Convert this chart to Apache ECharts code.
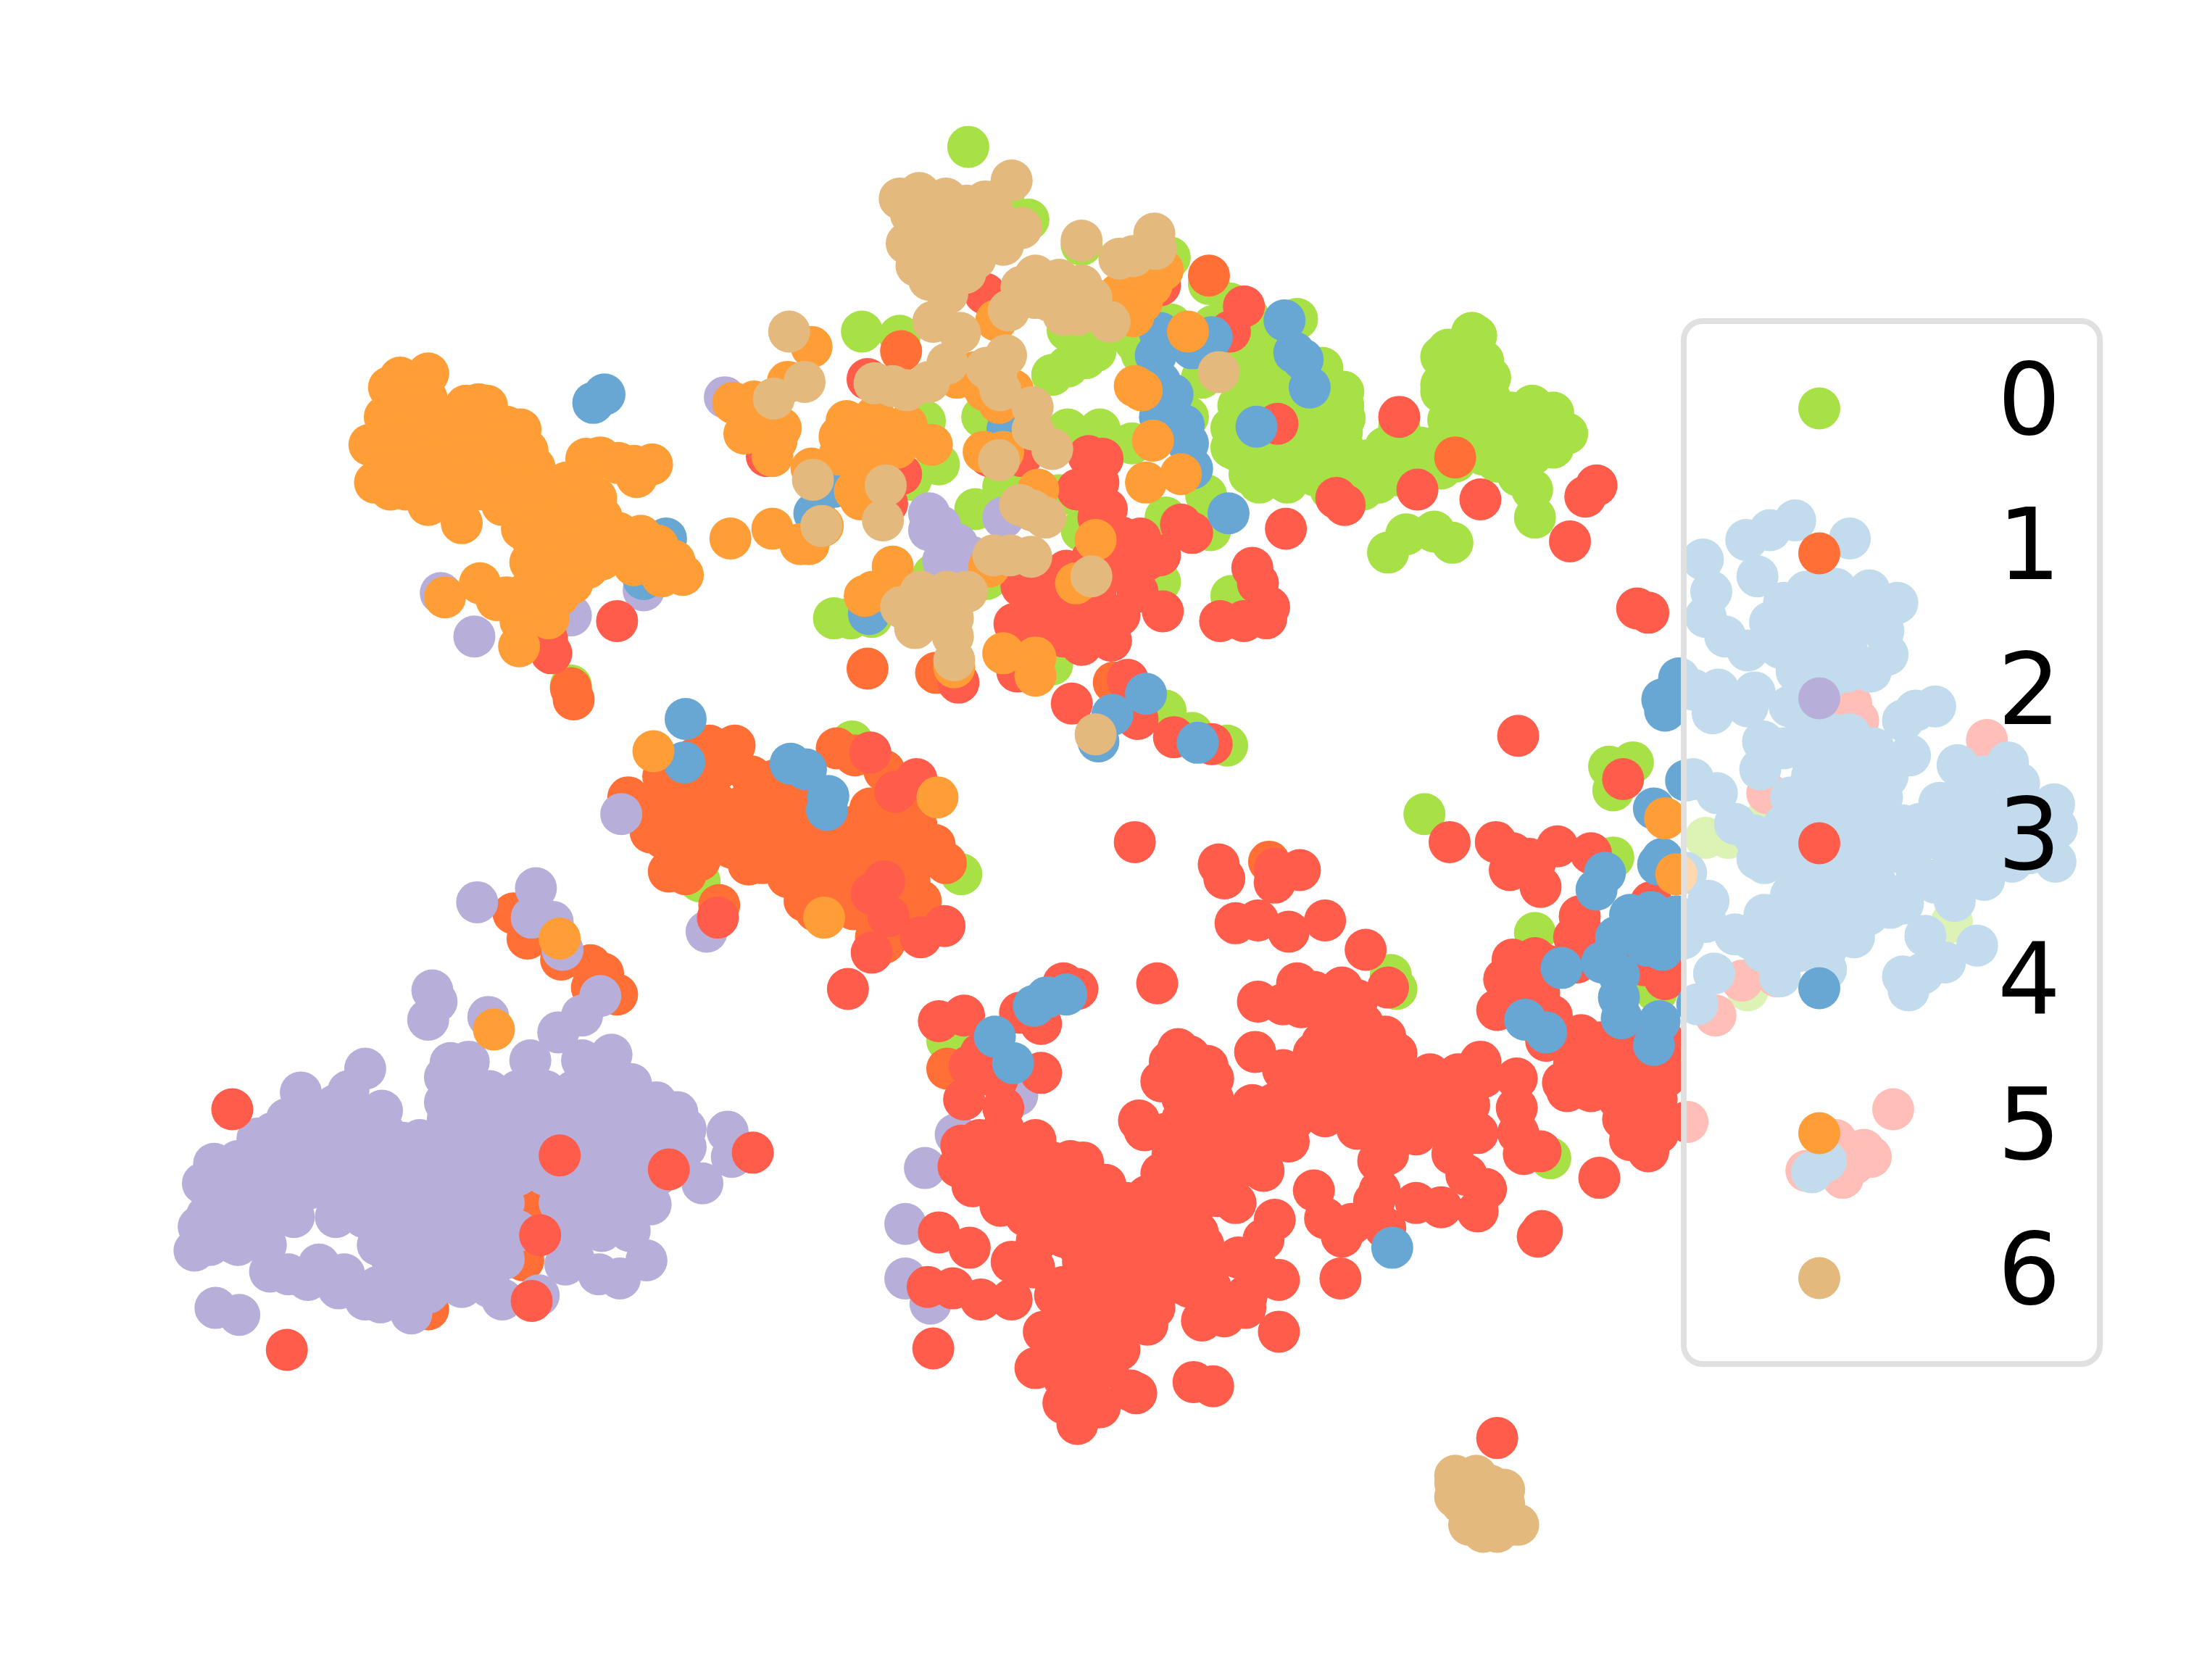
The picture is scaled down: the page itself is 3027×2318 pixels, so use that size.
<!DOCTYPE html>
<html><head><meta charset="utf-8">
<style>html,body{margin:0;padding:0;background:#fff}#c{width:3027px;height:2318px}</style>
<script src="https://cdn.jsdelivr.net/npm/echarts@6/dist/echarts.min.js"></script>
</head><body><div id="c"></div>
<script>
const labels=['0','1','2','3','4','5','6'];
const colors=['#a7e146','#ff6f36','#b7afd9','#ff5c4b','#68a7d3','#ff9e36','#e4b97e'];
const class0=[[692,105],[717,141],[735,157],[773,175],[836,184],[752,268],[763,262],[776,256],[783,251],[773,243],[763,236],[864,203],[879,217],[892,226],[927,228],[867,233],[816,253],[895,250],[895,269],[912,276],[895,289],[912,293],[928,296],[880,306],[898,306],[925,312],[945,263],[961,299],[959,309],[884,322],[905,332],[928,332],[951,332],[978,329],[893,339],[915,338],[951,350],[974,350],[1052,238],[1030,255],[1060,258],[1045,280],[1065,285],[1030,280],[1095,290],[1120,310],[1105,300],[1090,320],[1050,300],[1025,320],[1060,325],[1085,340],[1110,320],[1000,320],[985,345],[960,290],[990,330],[1095,350],[1097,370],[1005,382],[992,395],[1038,388],[1025,380],[1018,582],[1150,548],[1167,545],[1153,565],[1097,667],[1153,613],[1249,708],[1219,599],[1235,599],[1261,587],[1395,659],[1108,828],[994,697],[998,707],[1161,798],[1184,709],[609,530],[500,630],[687,625],[408,490],[616,237],[643,240],[596,442],[608,442],[623,441],[880,426],[829,416],[752,475],[877,533],[833,508],[852,524],[697,364],[757,354],[717,348],[773,379],[702,298],[763,307],[786,307],[809,317],[661,301],[671,332],[651,343],[833,370],[865,379],[849,298],[859,270],[811,244],[837,232],[705,414],[667,411],[862,354],[677,744],
[1040,265],[1050,270],[1045,250],[1035,300],[1045,310],[1060,305],[1075,310],[1090,305],[1100,315],[1080,295],[1110,295],[1095,325],[1040,330],[1030,335],[1070,330],[1035,320],[1015,320],[1015,340],[1000,340],[1030,275],[1055,240],[1035,250],[1065,270],[1060,280],[905,255],[915,265],[930,270],[900,300],[915,310],[940,320],[960,320],[975,340],[960,340],[940,340],[920,345],[900,345],[880,320],[895,320],[910,322],[925,300],[945,290],[945,310],[905,240],[885,235],[880,250],[885,270],[885,290],[870,245],[875,230],[960,280],[990,320],[985,335],[1000,305]];
const class1=[[449,570],[474,555],[507,533],[525,533],[497,542],[513,550],[537,555],[553,558],[569,561],[462,584],[474,575],[494,566],[513,575],[533,575],[553,575],[573,581],[474,599],[494,591],[513,594],[533,594],[553,594],[573,594],[593,599],[612,599],[632,604],[652,604],[668,604],[676,617],[478,623],[490,616],[523,606],[545,617],[563,627],[583,617],[603,617],[632,621],[652,619],[575,644],[583,651],[603,647],[593,632],[612,632],[658,644],[632,674],[626,670],[598,535],[611,540],[632,551],[622,578],[648,575],[668,570],[610,591],[646,591],[514,647],[367,653],[377,671],[401,686],[422,690],[431,696],[423,706],[441,711],[297,857],[386,859],[306,936],[374,901],[620,478],[669,481],[796,488],[410,500],[408,492],[864,197],[644,251],[1040,327],[907,616],[677,764],
[485,560],[500,545],[520,545],[540,565],[560,570],[485,585],[505,585],[525,585],[545,585],[565,585],[585,585],[465,595],[485,605],[505,605],[525,600],[545,605],[565,605],[585,605],[605,605],[620,612],[640,612],[660,612],[500,615],[490,625],[535,618],[575,630],[585,640],[600,630],[620,640],[640,640],[650,630],[640,655],[610,650],[640,595],[630,590],[620,590],[575,570],[655,590]];
const class2=[[341,645],[383,635],[380,656],[395,659],[402,679],[309,708],[312,716],[306,729],[349,727],[399,738],[416,726],[429,712],[437,754],[261,764],[249,780],[215,781],[273,794],[184,814],[153,832],[145,846],[148,869],[142,877],[139,894],[166,888],[193,909],[206,911],[220,915],[228,904],[246,911],[242,921],[261,929],[272,931],[294,939],[306,924],[341,916],[359,929],[385,926],[404,904],[428,911],[443,914],[462,901],[154,935],[171,940],[465,861],[502,846],[523,827],[520,809],[490,807],[484,795],[469,788],[451,775],[416,758],[379,758],[335,759],[322,760],[318,770],[318,788],[300,815],[288,817],
[330,780],[350,780],[370,780],[390,780],[410,780],[430,780],[450,780],[320,800],[340,800],[360,800],[380,800],[400,800],[420,800],[440,800],[460,800],[480,800],[300,820],[320,820],[340,820],[360,820],[380,820],[420,820],[440,820],[460,820],[490,820],[290,840],[310,840],[330,840],[350,840],[370,840],[390,840],[410,840],[430,840],[450,840],[470,840],[300,860],[320,860],[340,860],[360,860],[400,860],[420,860],[440,860],[460,860],[290,880],[310,880],[330,880],[350,880],[370,880],[410,880],[430,880],[450,880],[280,900],[300,900],[320,900],[340,900],[360,900],[410,900],[270,920],[290,920],[310,920],[330,920],[350,920],
[195,810],[215,810],[235,810],[255,810],[275,810],[170,830],[190,830],[210,830],[230,830],[250,830],[270,830],[160,850],[180,850],[200,850],[220,850],[240,850],[260,850],[280,850],[170,870],[190,870],[210,870],[240,870],[260,870],[280,870],[150,890],[170,890],[190,890],[270,890],[290,890],[240,790],[225,795],[265,800],[205,800],[470,815],[475,830],
[444,582],[505,666],[315,424],[460,422],[408,440],[339,455],[518,284],[664,367],[672,376],[664,379],[684,389],[674,401],[694,398],[717,370],[647,875],[647,914],[661,835],[683,811],[665,932],[727,783]];
const class3=[[871,618],[875,628],[911,621],[929,622],[911,631],[883,660],[899,658],[921,666],[947,658],[976,679],[827,703],[671,730],[689,726],[744,732],[760,703],[770,707],[729,724],[693,762],[744,767],[689,786],[717,792],[713,771],[701,753],[899,716],[917,718],[927,703],[939,709],[959,706],[992,706],[970,715],[974,732],[897,752],[917,765],[939,753],[959,753],[990,741],[998,753],[978,768],[959,774],[935,780],[911,789],[947,798],[970,807],[1012,811],[992,825],[1022,768],[1042,768],[1058,759],[1084,771],[1084,792],[1085,810],[1038,783],[1056,810],[1038,825],[1048,840],[1062,850],[1056,866],[1030,863],[1012,860],[986,851],[982,859],[939,851],[947,871],[959,884],[990,878],[966,875],[1018,786],[1018,804],[994,789],[970,789],[1102,880],[1099,884],[1143,842],[1089,825],[1101,823],[1178,823],[1169,804],[1184,786],[1177,774],[1157,786],[1117,774],[1137,780],[1129,753],[1149,762],[1184,753],[1105,744],[1109,726],[1070,722],[1081,686],[1097,685],[1091,700],[1127,688],[1188,688],[1180,645],[1079,622],[1069,602],[1101,634],[1097,617],[1113,605],[1129,655],[1036,602],[1137,610],[1093,614],[1081,610],[811,602],
[842,750],[836,759],[830,773],[863,762],[867,771],[867,786],[859,798],[814,801],[818,808],[899,804],[921,816],[903,837],[830,839],[838,825],[847,813],[875,822],[867,842],[883,860],[859,857],[844,839],[859,828],[687,819],[685,834],[695,848],[717,807],[739,816],[752,831],[774,831],[790,847],[715,862],[733,869],[717,828],[741,842],[760,851],[780,863],[808,869],[820,869],[840,866],[856,881],[820,890],[796,881],[760,884],[741,887],[774,902],[804,902],[836,908],[867,902],[885,899],[911,872],[903,886],[899,908],[914,915],[891,926],[875,941],[859,944],[843,917],[820,926],[792,926],[914,952],[958,914],[671,881],[693,892],[723,902],[739,906],[663,920],[681,921],[701,929],[723,929],[754,926],[667,964],[760,952],[746,952],[780,944],[820,947],[780,961],[740,978],[792,976],[760,976],[812,996],[808,994],[760,1003],[786,1006],[770,1018],[853,988],[867,991],[1070,1028],
[700,815],[720,815],[740,815],[700,830],[735,830],[765,830],[705,845],[725,845],[745,845],[775,845],[745,860],[765,860],[790,860],[805,860],[750,875],[775,875],[790,875],[815,875],[835,875],[770,890],[790,890],[805,890],[840,890],[860,890],[785,905],[820,905],[850,905],[760,920],[775,920],[805,920],[850,920],[865,920],[760,935],[800,935],[825,935],[865,935],[890,935],[770,950],[800,950],[760,965],[775,965],[800,965],[760,985],[780,985],
[850,755],[850,775],[845,785],[845,800],[835,810],[850,810],[860,812],[840,850],[855,842],[870,855],[830,855],[820,855],[880,840],[890,825],[880,805],[910,795],[925,800],[895,790],[905,820],[950,720],[930,720],[975,745],[960,735],[945,745],[975,760],[960,765],[945,765],[925,775],[985,770],[1000,770],[1005,790],[985,805],[965,770],[955,790],[935,790],[1030,780],[1050,790],[1040,800],[1060,770],[1030,800],[1005,805],[985,830],[1010,780],
[1115,740],[1125,760],[1140,770],[1160,760],[1165,745],[1145,745],[1130,740],[1170,775],[1160,800],[1175,800],[1185,810],[1165,815],[1150,770],[1120,780],[1190,770],[1190,745],[1090,710],[1105,690],[1100,710],[1075,700],[1130,665],[1125,670],[1190,700],[1175,690],
[778,326],[788,328],[785,345],[791,364],[801,384],[829,397],[844,375],[852,381],[809,408],[813,423],[831,437],[783,423],[762,408],[740,417],[730,419],[763,439],[783,439],[725,446],[747,452],[773,461],[794,458],[919,378],[895,406],[899,417],[907,434],[889,444],[872,444],[905,442],[955,356],[961,361],[889,219],[879,237],[913,303],[644,339],[548,326],[634,360],[620,271],[685,488],[727,480],[766,503],[806,486],[813,514],[839,527],[866,532],[707,326],[730,326],[829,204],[704,210],
[770,350],[785,370],[790,395],[780,400],[800,405],[810,395],[770,410],[790,440],[770,425],[750,430],[760,455],[800,440],[775,440],[745,440],[790,410],[820,400],[815,385],
[622,538],[655,557],[640,566],[632,630],[623,639],[635,655],[675,662],[658,670],[623,681],[606,707],[513,656],[166,793],[400,826],[478,836],[538,824],[386,883],[380,930],[205,965],[1000,298],[1013,350],[1058,357],[1122,387],[1133,355],[1141,347],[441,444],[1170,435],[1178,438],[1085,526],[1160,557],[391,457],[394,467],
[1420,529],[1353,793],[1337,827],[1332,822],[1312,815],[1291,837],[1317,842],[1325,832],[1206,802],[1226,726],[1245,701],[1270,698],[1263,567],[1279,584],[1323,503],[1328,515],[1348,587],[1190,755]];
const class4=[[918,229],[925,252],[931,257],[936,277],[898,305],[878,367],[829,238],[866,241],[826,254],[852,249],[838,282],[829,273],[846,304],[829,298],[849,317],[852,335],[720,307],[582,367],[596,348],[621,439],[490,514],[489,545],[476,385],[565,546],[576,550],[592,569],[591,579],[819,496],[795,511],[785,530],[856,531],[424,288],[432,282],[460,414],[739,719],[748,713],[762,711],[711,741],[724,760],[995,892],[1116,692],[1090,729],[1105,738],[1147,624],[1141,636],[1165,654],[1180,652],[1188,664],[1155,670],[1145,688],[1177,676],[1157,697],[1157,713],[1159,728],[1186,730],[1182,747],[1188,679],[1198,655],[1188,614],[1200,485],[1188,500],[1190,508],[1182,578],[1205,558],[1185,618],
[1217,400],[1223,423],[1219,441],[1233,455],[1249,465],[1248,386],[1265,379],[1283,372],[1322,385],[1256,412],[1275,431],[1291,423],[1312,421],[1336,422],[1356,431],[1349,468],[1337,480],[1346,451],[1318,450],[1295,455],[1272,463],[1284,480],[1307,485],[1300,440],[1320,465],[1210,493],[1224,510],[1228,493],[1249,505],[1254,495],[1279,505],[1293,515],[1322,525],[1339,535],[1258,550],[1275,535],[1293,540],[1312,550],[1330,560],[1349,555],[1365,540],[1360,515],[1369,508],[1383,505],[1399,547],[1418,555],[1435,545],[1443,560],[1407,562],[1468,575],[1470,592],[1469,616],[1438,616],[1453,594],[1434,589],[1416,599],[1418,629],[1388,594],[1381,599],[1372,589],[1386,574],[1210,557],[1227,567],[1240,589],[1253,597],[1256,614],[1261,617],[1286,624],[1302,584],[1319,584],[1339,580],[1295,555],[1322,548],[1339,614],[1312,619],[1349,609],[1323,604],[1205,624],[1221,644],[1219,659],[1203,671],[1225,696],[1213,718],[1261,654],[1277,661],[1291,666],[1251,671],[1272,698],[1305,679],[1316,664],[1335,654],[1351,649],[1360,646],[1330,634],[1312,649],[1383,631],[1397,644],[1376,669],[1390,688],[1413,676],[1360,698],[1364,708],[1374,696],[1305,830],[1295,838],[1360,590],[1300,565],[1280,570],[1300,600],[1300,640],
[1280,440],[1300,420],[1325,435],[1340,445],[1280,465],[1320,480],[1300,470],[1265,445],[1260,530],[1290,525],[1310,525],[1300,530],[1325,540],[1345,570],[1330,590],[1310,600],[1290,600],[1275,605],[1275,590],[1290,580],[1310,570],[1340,600],[1360,610],[1340,630],[1320,640],[1295,645],[1280,640],[1325,670],[1350,640],[1405,585],[1400,610],[1420,580],[1440,575],[1450,610],[1400,570],[1370,625],[1395,620],[1420,610],[1300,650],[1285,680],[1260,680],[1240,668],[1305,693]];
const class5=[[306,267],[286,270],[278,277],[275,298],[264,318],[268,345],[279,350],[306,361],[330,374],[359,361],[382,334],[377,322],[372,307],[362,305],[348,290],[342,289],[333,290],[288,298],[305,285],[320,300],[340,310],[300,320],[320,330],[280,325],[350,335],[330,345],[300,340],[355,320],[340,325],[365,330],[290,350],[419,328],[429,327],[442,331],[453,333],[466,332],[455,341],[426,356],[403,355],[384,361],[373,378],[379,402],[442,381],[458,383],[482,401],[488,411],[473,412],[453,404],[420,406],[409,417],[392,442],[371,462],[372,444],[355,429],[343,417],[318,427],[362,427],[388,430],[400,385],[420,380],[400,410],[380,420],[420,395],[400,370],[380,385],[430,370],[405,345],[390,350],
[295,310],[310,310],[325,315],[335,300],[310,345],[325,360],[345,350],[290,285],[300,295],[285,315],[275,335],[290,335],[310,330],[345,345],[360,345],[370,320],[415,345],[395,375],[410,395],[395,400],[440,395],[430,400],[425,385],[410,365],[385,405],[400,425],[375,425],[465,400],[450,392],[470,390],[370,350],[355,350],
[831,193],[816,216],[800,210],[823,204],[810,226],[712,229],[849,237],[811,276],[816,279],[824,315],[819,345],[844,339],[580,248],[563,273],[704,279],[714,288],[697,266],[724,279],[684,270],[524,288],[539,287],[532,310],[558,306],[552,326],[605,301],[600,312],[625,298],[648,304],[666,318],[621,320],[641,320],[611,329],[624,339],[611,351],[615,357],[580,335],[522,385],[552,378],[572,389],[578,389],[588,376],[703,323],[717,323],[742,350],[638,405],[624,423],[618,426],[707,405],[717,467],[740,470],[740,483],[783,386],[769,417],[682,477],[400,671],[353,736],[467,537],[670,570],[589,656],[1190,585],[1198,625],
[610,320],[625,310],[615,345],[625,335],[600,325],[640,310],[545,305],[540,300],[535,295],[555,315]];
const class6=[[723,129],[704,144],[643,142],[657,138],[676,142],[691,147],[710,153],[730,163],[648,174],[664,166],[681,163],[697,172],[664,200],[677,210],[697,185],[717,175],[671,185],[687,185],[651,153],[671,153],[691,166],[667,230],[686,238],[677,260],[664,273],[648,279],[625,274],[638,276],[564,237],[575,273],[553,285],[719,254],[712,270],[705,263],[715,279],[738,291],[738,307],[752,321],[773,172],[800,185],[810,183],[825,167],[826,178],[721,222],[740,197],[757,200],[773,204],[780,213],[793,230],[740,213],[757,216],[776,219],[871,266],[714,329],[581,343],[633,347],[631,372],[587,376],[729,361],[738,365],[747,370],[710,397],[722,397],[737,398],[780,412],[677,423],[658,423],[691,423],[644,434],[671,436],[654,449],[681,442],[681,455],[682,472],[783,525],[1040,1055],[1050,1062],[1065,1062],[1045,1075],[1060,1080],[1075,1075],[1085,1090],[1050,1090],[1070,1095],[1040,1070],
[660,185],[680,200],[700,165],[685,175],[655,165],[665,150],[690,155],[700,155],[715,160],[690,195],[670,200],[655,190],[745,205],[765,210],[750,215],[760,225],[730,205],[770,225],[1050,1075],[1060,1070],[1070,1085],[1060,1095],[1045,1060],[1055,1055],[1065,1075],[1080,1090],[1040,1060],[1075,1065],[1060,1090],[1050,1080]];
const classes=[class0,class1,class2,class3,class4,class5,class6];
const chart=echarts.init(document.getElementById('c'),null,{renderer:'canvas'});
chart.setOption({
  animation:false,
  backgroundColor:'#fff',
  grid:{left:0,right:0,top:0,bottom:0},
  xAxis:{type:'value',min:0,max:1568,show:false},
  yAxis:{type:'value',min:0,max:1201,inverse:true,show:false},
  legend:{
    show:true,orient:'vertical',left:2323,top:443,
    padding:[52,54,50,158],
    data:labels.map(n=>({name:n,icon:'circle'})),
    itemWidth:58,itemHeight:58,itemGap:63,
    textStyle:{fontFamily:'DejaVu Sans',fontSize:137,color:'#000',padding:[0,0,0,212]},
    selectedMode:false,
    backgroundColor:'rgba(255,255,255,0.6)',
    borderColor:'#e0e0e0',borderWidth:8,borderRadius:26
  },
  series:classes.map((d,i)=>({
    name:labels[i],type:'scatter',data:d,symbol:'circle',symbolSize:58,
    itemStyle:{color:colors[i],opacity:1},silent:true,z:2+i/10
  }))
});
</script></body></html>
